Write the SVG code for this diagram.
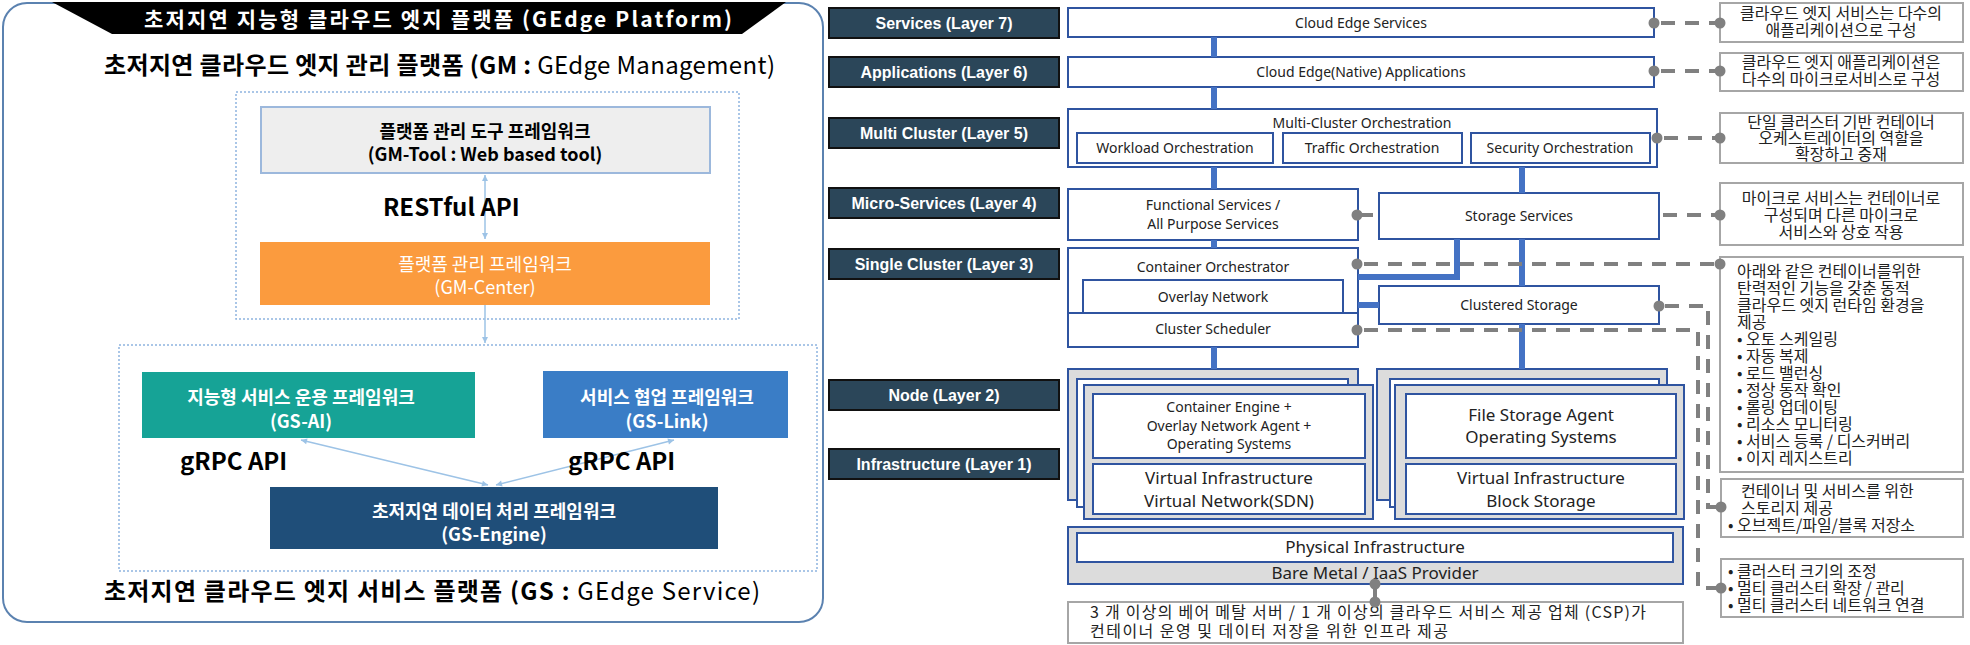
<svg xmlns="http://www.w3.org/2000/svg" width="1970" height="645" viewBox="0 0 1970 645">
<defs>
<style>
.kr{font-family:"Noto Sans CJK KR","Noto Sans",sans-serif}
.hd{font-family:"Noto Sans CJK KR",sans-serif;font-weight:bold;font-size:24px;fill:#000}
.bx{font-family:"Noto Sans CJK KR",sans-serif;font-size:18px;text-anchor:middle}
.lbl rect{fill:#2b4659;stroke:#111;stroke-width:2}
.lbl text{font-family:"Liberation Sans",Arial,sans-serif;font-weight:bold;font-size:16px;fill:#fff;text-anchor:middle}
.w{fill:#fff;stroke:#2f54a0;stroke-width:2}
.g{fill:#dcdcdc;stroke:#2f54a0;stroke-width:2}
.t{font-family:"Noto Sans","Noto Sans CJK KR",sans-serif;font-size:14px;fill:#222;text-anchor:middle}
.b{font-size:17px}
.ann rect{fill:#fff;stroke:#a6a6a6;stroke-width:2}
.ann text{font-family:"Noto Sans CJK KR",sans-serif;font-size:16px;fill:#222}
.c{text-anchor:middle}
.bl{stroke:#4472c4;stroke-width:6;fill:none}
.dash{stroke:#808080;stroke-width:4;stroke-dasharray:14 10;fill:none}
.sg{stroke:#808080;stroke-width:4;fill:none}
.dot{fill:#808080}
.lc{stroke:#9dc3e6;stroke-width:1.5;fill:none}
.dotbox{fill:none;stroke:#8fb4e0;stroke-width:1.5;stroke-dasharray:2 2}
</style>
<marker id="ah" markerWidth="8" markerHeight="8" refX="7" refY="4" orient="auto-start-reverse" markerUnits="userSpaceOnUse">
<path d="M1,1 L7,4 L1,7 z" fill="#9dc3e6"/>
</marker>
</defs>
<rect width="1970" height="645" fill="#fff"/>

<!-- Left panel -->
<g id="left-panel">
<rect x="3" y="3" width="820" height="619" rx="24" fill="#fff" stroke="#5b82b0" stroke-width="2"/>
<polygon points="52,2 786,2 742,34 112,34" fill="#000"/>
<text x="438" y="27" class="kr" font-weight="bold" font-size="21" fill="#fff" text-anchor="middle" textLength="588">초저지연 지능형 클라우드 엣지 플랫폼 (GEdge Platform)</text>
<text x="104" y="74" class="hd" textLength="671">초저지연 클라우드 엣지 관리 플랫폼 (GM : <tspan font-weight="normal">GEdge Management)</tspan></text>
<text x="104" y="600" class="hd" textLength="656">초저지연 클라우드 엣지 서비스 플랫폼 (GS : <tspan font-weight="normal">GEdge Service)</tspan></text>
</g>
<g id="gm-group"><rect class="dotbox" x="236" y="92" width="503" height="227"/></g>
<g id="gs-group"><rect class="dotbox" x="119" y="345" width="698" height="226"/></g>
<g id="gm-tool">
<rect x="261" y="107" width="449" height="66" fill="#eeeeee" stroke="#9cb8dc" stroke-width="2"/>
<text class="bx" y="138" font-weight="bold"><tspan x="485">플랫폼 관리 도구 프레임워크</tspan><tspan x="485" dy="23">(GM-Tool : Web based tool)</tspan></text>
</g>
<g id="gm-center">
<rect x="260" y="242" width="450" height="63" fill="#fb9b3e"/>
<text class="bx" y="271" fill="#fff"><tspan x="485">플랫폼 관리 프레임워크</tspan><tspan x="485" dy="23">(GM-Center)</tspan></text>
</g>
<g id="gs-ai">
<rect x="142" y="372" width="333" height="66" fill="#16a396"/>
<text class="bx" y="404" fill="#fff" font-weight="bold"><tspan x="301">지능형 서비스 운용 프레임워크</tspan><tspan x="301" dy="24">(GS-AI)</tspan></text>
</g>
<g id="gs-link">
<rect x="543" y="371" width="245" height="67" fill="#3a7dc6"/>
<text class="bx" y="404" fill="#fff" font-weight="bold"><tspan x="667">서비스 협업 프레임워크</tspan><tspan x="667" dy="24">(GS-Link)</tspan></text>
</g>
<g id="gs-engine">
<rect x="270" y="487" width="448" height="62" fill="#1f4e79"/>
<text class="bx" y="518" fill="#fff" font-weight="bold"><tspan x="494">초저지연 데이터 처리 프레임워크</tspan><tspan x="494" dy="23">(GS-Engine)</tspan></text>
</g>

<!-- Layer labels -->
<g id="lbl-l7" class="lbl"><rect x="829" y="8" width="230" height="30"/><text x="944" y="29">Services  (Layer 7)</text></g>
<g id="lbl-l6" class="lbl"><rect x="829" y="57" width="230" height="30"/><text x="944" y="78">Applications  (Layer 6)</text></g>
<g id="lbl-l5" class="lbl"><rect x="829" y="118" width="230" height="30"/><text x="944" y="139">Multi  Cluster  (Layer 5)</text></g>
<g id="lbl-l4" class="lbl"><rect x="829" y="188" width="230" height="30"/><text x="944" y="209">Micro-Services  (Layer 4)</text></g>
<g id="lbl-l3" class="lbl"><rect x="829" y="249" width="230" height="30"/><text x="944" y="270">Single  Cluster  (Layer 3)</text></g>
<g id="lbl-l2" class="lbl"><rect x="829" y="380" width="230" height="30"/><text x="944" y="401">Node  (Layer 2)</text></g>
<g id="lbl-l1" class="lbl"><rect x="829" y="449" width="230" height="30"/><text x="944" y="470">Infrastructure  (Layer 1)</text></g>

<!-- Main stack -->
<g id="cloud-edge-services"><rect class="w" x="1068" y="8" width="586" height="29"/><text class="t" x="1361" y="28">Cloud Edge Services</text></g>
<g id="cloud-edge-apps"><rect class="w" x="1068" y="57" width="586" height="30"/><text class="t" x="1361" y="77">Cloud Edge(Native)  Applications</text></g>
<g id="multi-cluster">
<rect class="w" x="1068" y="109" width="589" height="58"/>
<text class="t" x="1362" y="128">Multi-Cluster  Orchestration</text>
<rect class="w" x="1077" y="133" width="196" height="30"/><text class="t" x="1175" y="153">Workload Orchestration</text>
<rect class="w" x="1283" y="133" width="179" height="30"/><text class="t" x="1372" y="153">Traffic Orchestration</text>
<rect class="w" x="1471" y="133" width="179" height="30"/><text class="t" x="1560" y="153">Security Orchestration</text>
</g>
<g id="functional-services"><rect class="w" x="1068" y="189" width="290" height="51"/><text class="t" y="210"><tspan x="1213">Functional Services /</tspan><tspan x="1213" dy="19">All Purpose Services</tspan></text></g>
<g id="storage-services"><rect class="w" x="1379" y="193" width="280" height="46"/><text class="t" x="1519" y="221">Storage Services</text></g>
<g id="single-cluster">
<rect class="w" x="1068" y="248" width="290" height="99"/>
<text class="t" x="1213" y="272">Container Orchestrator</text>
<rect class="w" x="1083" y="280" width="260" height="33"/><text class="t" x="1213" y="302">Overlay Network</text>
<line x1="1068" y1="313" x2="1358" y2="313" stroke="#2f54a0" stroke-width="2"/>
<text class="t" x="1213" y="334">Cluster Scheduler</text>
</g>
<g id="clustered-storage"><rect class="w" x="1379" y="286" width="280" height="38"/><text class="t" x="1519" y="310">Clustered Storage</text></g>

<g id="node-compute">
<rect class="g" x="1068" y="369" width="290" height="131"/>
<rect class="w" x="1077" y="379" width="271" height="128"/>
<rect class="g" x="1084" y="385" width="289" height="134"/>
<rect class="w" x="1093" y="394" width="272" height="64"/>
<text class="t" y="412"><tspan x="1229">Container Engine +</tspan><tspan x="1229" dy="19">Overlay Network  Agent +</tspan><tspan x="1229" dy="18">Operating Systems</tspan></text>
<rect class="w" x="1093" y="464" width="272" height="50"/>
<text class="t b" y="484"><tspan x="1229">Virtual Infrastructure</tspan><tspan x="1229" dy="23">Virtual Network(SDN)</tspan></text>
</g>
<g id="node-storage">
<rect class="g" x="1377" y="369" width="290" height="131"/>
<rect class="w" x="1390" y="379" width="269" height="128"/>
<rect class="g" x="1395" y="385" width="289" height="134"/>
<rect class="w" x="1406" y="394" width="270" height="64"/>
<text class="t b" y="421"><tspan x="1541">File Storage Agent</tspan><tspan x="1541" dy="22">Operating Systems</tspan></text>
<rect class="w" x="1406" y="464" width="270" height="50"/>
<text class="t b" y="484"><tspan x="1541">Virtual Infrastructure</tspan><tspan x="1541" dy="23">Block Storage</tspan></text>
</g>
<g id="physical">
<rect class="g" x="1068" y="527" width="615" height="57"/>
<rect class="w" x="1077" y="533" width="596" height="29"/>
<text class="t b" x="1375" y="553">Physical Infrastructure</text>
<text class="t b" x="1375" y="579">Bare Metal / IaaS Provider</text>
</g>
<g id="infra-note" class="ann">
<rect x="1068" y="602" width="615" height="41"/>
<text font-size="15.5" y="618"><tspan x="1090" textLength="556">3 개 이상의 베어 메탈 서버 / 1 개 이상의 클라우드 서비스 제공 업체 (CSP)가</tspan><tspan x="1090" dy="19" textLength="358">컨테이너 운영 및 데이터 저장을 위한 인프라 제공</tspan></text>
</g>

<!-- Annotations -->
<g id="ann-services" class="ann"><rect x="1720" y="3" width="243" height="39"/>
<text class="c" y="19"><tspan x="1841">클라우드 엣지 서비스는 다수의</tspan><tspan x="1841" dy="17">애플리케이션으로 구성</tspan></text></g>
<g id="ann-apps" class="ann"><rect x="1720" y="53" width="243" height="38"/>
<text class="c" y="68"><tspan x="1841">클라우드 엣지 애플리케이션은</tspan><tspan x="1841" dy="17">다수의 마이크로서비스로 구성</tspan></text></g>
<g id="ann-multi" class="ann"><rect x="1720" y="113" width="243" height="50"/>
<text class="c" y="128"><tspan x="1841">단일 클러스터 기반 컨테이너</tspan><tspan x="1841" dy="16">오케스트레이터의 역할을</tspan><tspan x="1841" dy="16">확장하고 중재</tspan></text></g>
<g id="ann-micro" class="ann"><rect x="1720" y="183" width="243" height="62"/>
<text class="c" y="204"><tspan x="1841">마이크로 서비스는 컨테이너로</tspan><tspan x="1841" dy="17">구성되며 다른 마이크로</tspan><tspan x="1841" dy="17">서비스와 상호 작용</tspan></text></g>
<g id="ann-single" class="ann"><rect x="1720" y="257" width="243" height="215"/>
<text y="277"><tspan x="1737">아래와 같은 컨테이너를위한</tspan><tspan x="1737" dy="17">탄력적인 기능을 갖춘 동적</tspan><tspan x="1737" dy="17">클라우드 엣지 런타임 환경을</tspan><tspan x="1737" dy="17">제공</tspan><tspan x="1737" dy="17">• 오토 스케일링</tspan><tspan x="1737" dy="17">• 자동 복제</tspan><tspan x="1737" dy="17">• 로드 밸런싱</tspan><tspan x="1737" dy="17">• 정상 동작 확인</tspan><tspan x="1737" dy="17">• 롤링 업데이팅</tspan><tspan x="1737" dy="17">• 리소스 모니터링</tspan><tspan x="1737" dy="17">• 서비스 등록 / 디스커버리</tspan><tspan x="1737" dy="17">• 이지 레지스트리</tspan></text>
</g>
<g id="ann-storage" class="ann"><rect x="1721" y="479" width="242" height="58"/>
<text y="497"><tspan x="1741">컨테이너 및 서비스를 위한</tspan><tspan x="1741" dy="17">스토리지 제공</tspan><tspan x="1728" dy="17">• 오브젝트/파일/블록 저장소</tspan></text></g>
<g id="ann-cluster" class="ann"><rect x="1721" y="559" width="242" height="58"/>
<text y="577"><tspan x="1728">• 클러스터 크기의 조정</tspan><tspan x="1728" dy="17">• 멀티 클러스터 확장 / 관리</tspan><tspan x="1728" dy="17">• 멀티 클러스터 네트워크 연결</tspan></text></g>

<!-- Connectors -->
<g id="connectors">
<path class="lc" d="M485,175 V239" marker-start="url(#ah)" marker-end="url(#ah)"/>
<path class="lc" d="M485,305 V343" marker-end="url(#ah)"/>
<path class="lc" d="M301,440 L488,485" marker-start="url(#ah)" marker-end="url(#ah)"/>
<path class="lc" d="M674,440 L496,485" marker-start="url(#ah)" marker-end="url(#ah)"/>
<text x="383" y="216" class="hd">RESTful API</text>
<text x="180" y="470" class="hd">gRPC API</text>
<text x="568" y="470" class="hd">gRPC API</text>

<path class="bl" d="M1214,37 V57 M1214,87 V109 M1214,167 V189 M1214,240 V248 M1214,347 V369"/>
<path class="bl" d="M1522,167 V193 M1522,239 V286 M1522,324 V369"/>
<path class="bl" d="M1457,239 V277 H1358 M1358,305 H1379"/>

<path class="dash" d="M1661,23 H1716 M1661,71 H1716 M1664,138 H1716 M1663,215 H1716"/>
<path class="dash" d="M1364,264 H1716"/>
<path class="dash" d="M1665,306 H1708 V507 H1716"/>
<path class="dash" d="M1364,330 H1698 V588 H1716"/>
<path class="sg" d="M1357,215 H1373"/>
<path class="sg" d="M1375,584 V602" stroke-width="3"/>
<circle class="dot" cx="1654" cy="23" r="5.5"/><circle class="dot" cx="1720" cy="23" r="5.5"/>
<circle class="dot" cx="1654" cy="71" r="5.5"/><circle class="dot" cx="1720" cy="71" r="5.5"/>
<circle class="dot" cx="1657" cy="138" r="5.5"/><circle class="dot" cx="1720" cy="138" r="5.5"/>
<circle class="dot" cx="1357" cy="215" r="5.5"/><circle class="dot" cx="1720" cy="215" r="5.5"/>
<circle class="dot" cx="1357" cy="264" r="5.5"/><circle class="dot" cx="1720" cy="264" r="5.5"/>
<circle class="dot" cx="1659" cy="306" r="5.5"/><circle class="dot" cx="1721" cy="507" r="5.5"/>
<circle class="dot" cx="1357" cy="330" r="5.5"/><circle class="dot" cx="1721" cy="588" r="5.5"/>
<circle class="dot" cx="1375" cy="584" r="5.5"/><circle class="dot" cx="1375" cy="602" r="5.5"/>
</g>
</svg>
